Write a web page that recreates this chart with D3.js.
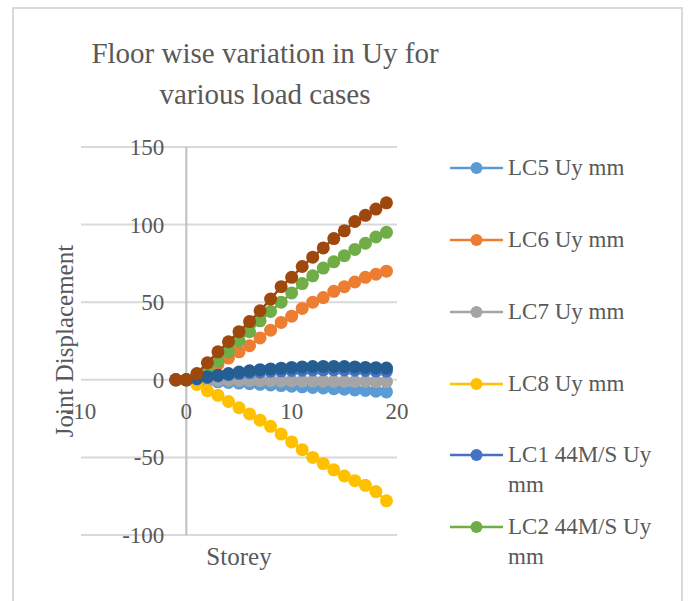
<!DOCTYPE html>
<html>
<head>
<meta charset="utf-8">
<script src="https://cdn.jsdelivr.net/npm/d3@7"></script>
<style>
  body { margin: 0; background: #fff; }
  text { font-family: "Liberation Serif", "DejaVu Serif", serif; fill: #595959; }
</style>
</head>
<body>
<div id="chart"></div>
<script>
var storey = [-1, 0, 1, 2, 3, 4, 5, 6, 7, 8, 9, 10, 11, 12, 13, 14, 15, 16, 17, 18, 19]

var lc5 = [0, 0, -0.3, -0.8, -1.3, -1.7, -2.1, -2.5, -2.9, -3.3, -3.7, -4.1, -4.5, -4.9, -5.3, -5.7, -6.1, -6.5, -6.9, -7.3, -7.8]
var lc6 = [0, 0, 2, 6, 10, 14, 18, 22, 27, 32, 37, 41, 46, 50, 53, 57, 60, 63, 66, 68, 70]
var lc7 = [0, 0, 0, -0.1, -0.2, -0.3, -0.4, -0.5, -0.5, -0.6, -0.7, -0.7, -0.8, -0.8, -0.9, -1, -1, -1.1, -1.1, -1.2, -1.2]
var lc8 = [0, 0, -3, -7, -10, -14, -18, -22, -26, -30, -35, -40, -45, -50, -54, -58, -62, -65, -68, -72, -78]
var lc1 = [0, 0, 0.5, 1.5, 2.5, 3.3, 4, 4.6, 5.1, 5.5, 5.8, 6, 6.2, 6.3, 6.4, 6.4, 6.3, 6.2, 6, 5.8, 5.6]
var lc2 = [0, 0, 2, 6, 12, 18, 25, 31, 38, 44, 50, 56, 62, 67, 72, 76, 80, 84, 88, 92, 95]
var lc3 = [0, 0, 1, 2, 3, 4, 5, 5.8, 6.5, 7, 7.5, 8, 8.3, 8.5, 8.6, 8.6, 8.5, 8.3, 8, 7.8, 7.6]
var lc4 = [0, 0, 4, 11, 18, 24.5, 31, 37.5, 44.5, 52, 60, 66, 73, 79, 85, 91, 96, 102, 106, 110, 114]

var seriesNames = ['LC5 Uy mm', 'LC6 Uy mm', 'LC7 Uy mm', 'LC8 Uy mm', 'LC1 44M/S Uy mm', 'LC2 44M/S Uy mm', 'LC3 44M/S Uy mm', 'LC4 44M/S Uy mm']
var seriesValues = [lc5, lc6, lc7, lc8, lc1, lc2, lc3, lc4]
var colors = ['#5B9BD5', '#ED7D31', '#A5A5A5', '#FFC000', '#4472C4', '#70AD47', '#255E91', '#9E480E']

var xTicks = [-10, 0, 10, 20]
var yTicks = [-100, -50, 0, 50, 100, 150]

var W = 688, H = 601

var svg = d3.select('#chart').append('svg')
    .attr('width', W)
    .attr('height', H)

// chart area border
svg.append('rect')
    .attr('x', 13).attr('y', 8)
    .attr('width', 669).attr('height', 620)
    .attr('fill', 'none')
    .attr('stroke', '#D9D9D9')
    .attr('stroke-width', 2)

svg.append('text')
    .attr('x', 265).attr('y', 63)
    .attr('text-anchor', 'middle')
    .attr('font-size', 29)
    .text('Floor wise variation in Uy for')
svg.append('text')
    .attr('x', 265).attr('y', 104)
    .attr('text-anchor', 'middle')
    .attr('font-size', 29)
    .text('various load cases')

var x = d3.scaleLinear().domain([-10, 20]).range([81, 397])
var y = d3.scaleLinear().domain([-100, 150]).range([535, 147])

// horizontal gridlines
svg.selectAll('line.grid')
    .data(yTicks)
    .enter()
    .append('line')
    .attr('class', 'grid')
    .attr('x1', x(-10)).attr('x2', x(20))
    .attr('y1', function(d){return y(d)})
    .attr('y2', function(d){return y(d)})
    .attr('stroke', '#D9D9D9')
    .attr('stroke-width', 2)

// vertical axis at x = 0
svg.append('line')
    .attr('x1', x(0)).attr('x2', x(0))
    .attr('y1', y(150)).attr('y2', y(-100))
    .attr('stroke', '#BFBFBF')
    .attr('stroke-width', 2)

svg.selectAll('text.ylab')
    .data(yTicks)
    .enter()
    .append('text')
    .attr('class', 'ylab')
    .attr('x', x(0) - 22)
    .attr('y', function(d){return y(d) + 8})
    .attr('text-anchor', 'end')
    .attr('font-size', 23)
    .text(function(d){return d})

svg.selectAll('text.xlab')
    .data(xTicks)
    .enter()
    .append('text')
    .attr('class', 'xlab')
    .attr('x', function(d){return x(d)})
    .attr('y', y(0) + 39)
    .attr('text-anchor', 'middle')
    .attr('font-size', 23)
    .text(function(d){return d})

svg.append('text')
    .attr('transform', 'translate(73,' + y(25) + ') rotate(-90)')
    .attr('text-anchor', 'middle')
    .attr('font-size', 25)
    .text('Joint Displacement')

svg.append('text')
    .attr('x', (x(-10) + x(20)) / 2)
    .attr('y', 565)
    .attr('text-anchor', 'middle')
    .attr('font-size', 25)
    .text('Storey')

var line = d3.line()
    .x(function(d){return x(d[0])})
    .y(function(d){return y(d[1])})

seriesValues.forEach(function(vals, k){
    var pts = storey.map(function(s, i){return [s, vals[i]]})
    var g = svg.append('g')
    g.append('path')
        .attr('d', line(pts))
        .attr('fill', 'none')
        .attr('stroke', colors[k])
        .attr('stroke-width', 2.5)
    g.selectAll('circle')
        .data(pts)
        .enter()
        .append('circle')
        .attr('cx', function(d){return x(d[0])})
        .attr('cy', function(d){return y(d[1])})
        .attr('r', 6.5)
        .attr('fill', colors[k])
})

// legend (only the first six entries fit)
var legendRows = [
    {name: 'LC5 Uy mm', lines: ['LC5 Uy mm'], y: 168},
    {name: 'LC6 Uy mm', lines: ['LC6 Uy mm'], y: 240},
    {name: 'LC7 Uy mm', lines: ['LC7 Uy mm'], y: 312},
    {name: 'LC8 Uy mm', lines: ['LC8 Uy mm'], y: 384},
    {name: 'LC1 44M/S Uy mm', lines: ['LC1 44M/S Uy', 'mm'], y: 455},
    {name: 'LC2 44M/S Uy mm', lines: ['LC2 44M/S Uy', 'mm'], y: 527}
]

var lg = svg.selectAll('g.legend')
    .data(legendRows)
    .enter()
    .append('g')
    .attr('class', 'legend')
    .attr('transform', function(d){return 'translate(0,' + d.y + ')'})

lg.append('line')
    .attr('x1', 450).attr('x2', 503)
    .attr('stroke', function(d){return colors[seriesNames.indexOf(d.name)]})
    .attr('stroke-width', 2.5)
lg.append('circle')
    .attr('cx', 476.5)
    .attr('r', 6)
    .attr('fill', function(d){return colors[seriesNames.indexOf(d.name)]})
lg.each(function(d){
    var t = d3.select(this)
    d.lines.forEach(function(s, i){
        t.append('text')
            .attr('x', 508)
            .attr('y', 7 + i * 30)
            .attr('font-size', 23)
            .text(s)
    })
})
</script>
</body>
</html>
